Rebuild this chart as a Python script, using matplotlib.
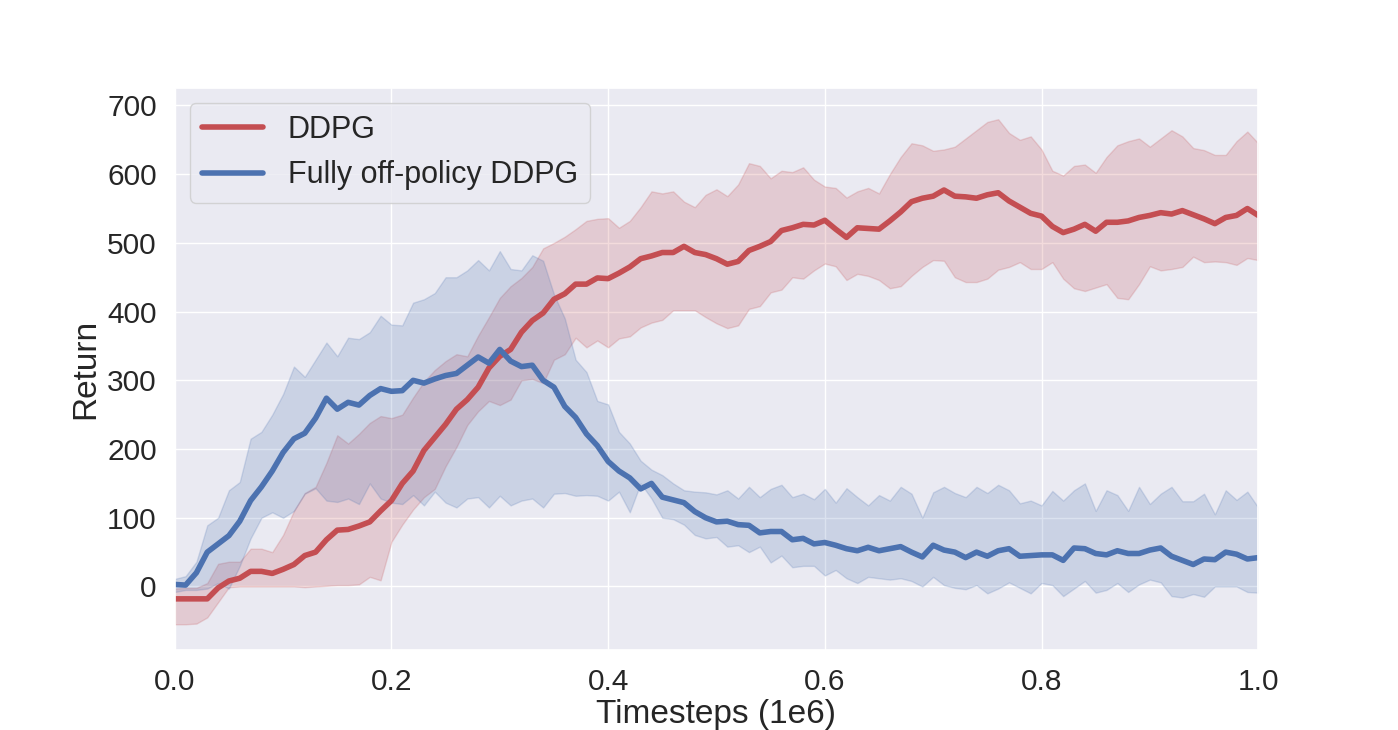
import numpy as np
import matplotlib
matplotlib.use("Agg")
import matplotlib.pyplot as plt
import seaborn as sns

# timesteps in units of 1e6, sampled every 0.01
timesteps = np.linspace(0, 1, 101)

ddpg_mean = [-18, -18, -18, -18, -2, 8, 12, 22, 22, 19,
             25, 32, 45, 50, 68, 82, 83, 88, 94, 110,
             125, 150, 168, 198, 217, 236, 258, 272, 290, 318,
             335, 345, 370, 387, 398, 418, 426, 440, 440, 449,
             448, 456, 465, 477, 481, 486, 486, 495, 486, 483,
             477, 469, 473, 489, 495, 502, 518, 522, 527, 526,
             533, 520, 508, 522, 521, 520, 532, 545, 560, 565,
             568, 577, 568, 567, 565, 570, 573, 561, 552, 543,
             539, 524, 515, 520, 527, 517, 530, 530, 532, 537,
             540, 544, 542, 547, 541, 535, 528, 537, 540, 550,
             540]
ddpg_upper = [-3, -2, -2, 5, 33, 36, 36, 55, 55, 50,
              75, 110, 136, 145, 180, 220, 208, 222, 238, 248,
              245, 250, 275, 298, 315, 328, 338, 335, 365, 392,
              420, 437, 449, 465, 492, 500, 509, 520, 532, 535,
              536, 522, 532, 552, 575, 572, 575, 560, 552, 570,
              578, 568, 585, 616, 612, 594, 605, 603, 610, 592,
              582, 580, 566, 575, 580, 572, 600, 625, 645, 642,
              634, 636, 640, 652, 664, 676, 680, 660, 650, 655,
              636, 605, 598, 612, 614, 602, 625, 642, 648, 652,
              640, 652, 664, 655, 638, 635, 628, 628, 648, 662,
              645]
ddpg_lower = [-55, -55, -54, -45, -23, -1, 0, 0, 0, 0,
              0, 0, -1, 0, 1, 2, 2, 3, 14, 9,
              65, 90, 112, 130, 142, 175, 203, 235, 255, 270,
              264, 272, 300, 302, 296, 330, 338, 362, 348, 358,
              348, 361, 364, 377, 384, 388, 402, 402, 402, 392,
              383, 376, 380, 404, 408, 428, 432, 450, 448, 460,
              470, 466, 446, 455, 452, 446, 434, 437, 452, 465,
              475, 474, 450, 443, 443, 448, 461, 465, 472, 462,
              462, 472, 448, 434, 430, 435, 440, 420, 418, 440,
              466, 460, 462, 465, 480, 472, 473, 472, 468, 478,
              475]

off_mean = [3, 2, 20, 50, 62, 74, 95, 125, 145, 168,
            195, 215, 223, 245, 274, 258, 268, 264, 278, 288,
            284, 285, 300, 296, 302, 307, 310, 322, 334, 325,
            345, 328, 320, 322, 300, 290, 262, 246, 222, 205,
            182, 168, 158, 142, 150, 130, 126, 122, 109, 100,
            94, 95, 90, 89, 78, 80, 80, 68, 70, 62,
            64, 60, 55, 52, 57, 52, 55, 58, 50, 43,
            60, 53, 50, 42, 50, 44, 52, 55, 44, 45,
            46, 46, 38, 56, 55, 48, 46, 52, 48, 48,
            53, 56, 44, 38, 32, 40, 39, 50, 47, 40,
            42]
off_upper = [11, 15, 36, 89, 100, 140, 152, 215, 225, 250,
             280, 320, 305, 330, 355, 335, 362, 360, 370, 394,
             381, 380, 413, 418, 427, 450, 450, 460, 475, 460,
             488, 462, 460, 482, 474, 425, 390, 330, 312, 270,
             265, 225, 208, 183, 170, 162, 150, 140, 138, 137,
             134, 140, 128, 145, 130, 142, 148, 130, 135, 127,
             142, 122, 143, 130, 118, 133, 125, 145, 135, 100,
             137, 145, 136, 130, 145, 136, 148, 140, 121, 125,
             118, 139, 125, 140, 150, 110, 140, 133, 110, 145,
             120, 135, 145, 124, 124, 135, 105, 140, 126, 138,
             115]
off_lower = [-8, -5, -5, -3, 5, -3, 30, 70, 100, 108,
             100, 110, 135, 143, 125, 123, 128, 120, 150, 128,
             122, 120, 133, 118, 138, 122, 115, 128, 130, 115,
             132, 118, 125, 128, 115, 135, 136, 132, 133, 132,
             125, 138, 108, 150, 128, 100, 98, 90, 75, 70,
             72, 58, 60, 50, 58, 35, 45, 28, 30, 30,
             16, 24, 12, 5, 14, 12, 10, 12, 8, 0,
             14, 2, -2, -4, 2, -10, -3, 6, -2, -10,
             5, 2, -14, -3, 8, -9, -5, 5, -8, 3,
             10, 6, -14, -16, -11, -15, 0, 0, 0, -8,
             -9]

sns.set_theme(style="darkgrid")
plt.rcParams['font.family'] = ['Liberation Sans', 'DejaVu Sans']

red = '#C44E52'
blue = '#4C72B0'

fig, ax = plt.subplots(figsize=(13.98, 7.3), dpi=100)

ax.fill_between(timesteps, ddpg_lower, ddpg_upper, color=red, alpha=0.2)
ax.plot(timesteps, ddpg_mean, color=red, linewidth=4, label='DDPG')
ax.fill_between(timesteps, off_lower, off_upper, color=blue, alpha=0.2)
ax.plot(timesteps, off_mean, color=blue, linewidth=4, label='Fully off-policy DDPG')

ax.set_xlim(0, 1.0)
ax.set_ylim(-92, 726)
ax.set_yticks([0, 100, 200, 300, 400, 500, 600, 700])
ax.tick_params(labelsize=21.5, pad=7)
ax.set_xlabel('Timesteps (1e6)', fontsize=24, labelpad=2)
ax.set_ylabel('Return', fontsize=24)
ax.legend(loc='upper left', fontsize=22)

fig.savefig('out.png', dpi=100)
